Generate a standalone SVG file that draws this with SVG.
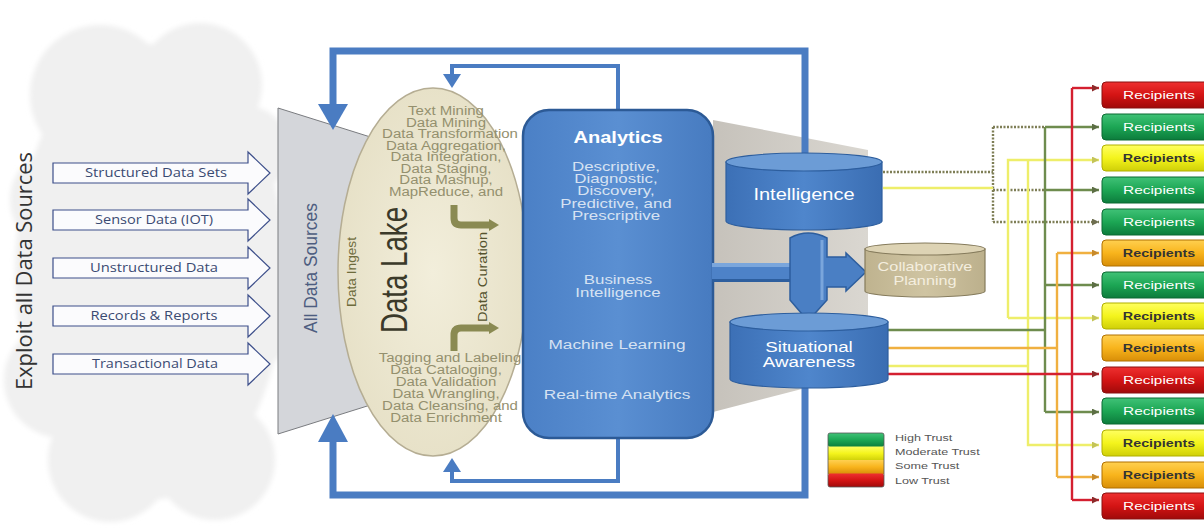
<svg xmlns="http://www.w3.org/2000/svg" width="1204" height="529" viewBox="0 0 1204 529">
  <defs>
    <style>
      .src { fill: #fbfbfd; stroke: #3d4f8a; stroke-width: 1.2; }
      .srct { font-family: "Open Sans", "Liberation Sans", sans-serif; font-size: 12px; fill: #3a4a72; text-anchor: middle; }
      .lake { font-family: "Liberation Sans", Arial, sans-serif; font-size: 12px; fill: #94906e; text-anchor: middle; }
      .an { font-family: "Liberation Sans", Arial, sans-serif; font-size: 12.5px; fill: #d6e2f2; text-anchor: middle; }
      .wt { font-family: "Liberation Sans", Arial, sans-serif; fill: #ffffff; text-anchor: middle; }
      .rc { font-family: "Liberation Sans", Arial, sans-serif; font-size: 11px; text-anchor: middle; }
      .lg { font-family: "Liberation Sans", Arial, sans-serif; font-size: 9px; fill: #555; }
      .loop { fill: none; stroke: #4a7cc2; stroke-linejoin: miter; }
      .ln { fill: none; stroke-width: 2.4; }
      .blue { fill: #4a7fc4; stroke: #2d5e9e; stroke-width: 1.5; }
    </style>
    <filter id="soft" x="-5%" y="-5%" width="110%" height="110%">
      <feGaussianBlur stdDeviation="2.5"/>
    </filter>
    <linearGradient id="gAn" x1="0" y1="0" x2="1" y2="0">
      <stop offset="0" stop-color="#4b80c6"/>
      <stop offset="0.5" stop-color="#5a8fd2"/>
      <stop offset="1" stop-color="#477bc0"/>
    </linearGradient>
    <linearGradient id="gCyl" x1="0" y1="0" x2="1" y2="0">
      <stop offset="0" stop-color="#3c70b6"/>
      <stop offset="0.5" stop-color="#4f86cc"/>
      <stop offset="1" stop-color="#3a6db2"/>
    </linearGradient>
    <linearGradient id="gTan" x1="0" y1="0" x2="1" y2="0">
      <stop offset="0" stop-color="#bfb38f"/>
      <stop offset="0.5" stop-color="#cfc4a2"/>
      <stop offset="1" stop-color="#bcb08c"/>
    </linearGradient>
    <linearGradient id="gShade" x1="0" y1="0" x2="1" y2="0">
      <stop offset="0" stop-color="#c6c2bb"/>
      <stop offset="1" stop-color="#dad7d1"/>
    </linearGradient>
    <radialGradient id="gLake" cx="0.5" cy="0.5" r="0.55">
      <stop offset="0" stop-color="#f2eedb"/>
      <stop offset="1" stop-color="#e6e0c6"/>
    </radialGradient>
    <linearGradient id="gG" x1="0" y1="0" x2="0" y2="1">
      <stop offset="0" stop-color="#40c277"/>
      <stop offset="0.5" stop-color="#1ca654"/>
      <stop offset="1" stop-color="#0c7c3c"/>
    </linearGradient>
    <linearGradient id="gR" x1="0" y1="0" x2="0" y2="1">
      <stop offset="0" stop-color="#ee3030"/>
      <stop offset="0.5" stop-color="#d41414"/>
      <stop offset="1" stop-color="#a00a0a"/>
    </linearGradient>
    <linearGradient id="gY" x1="0" y1="0" x2="0" y2="1">
      <stop offset="0" stop-color="#ffff60"/>
      <stop offset="0.5" stop-color="#f4f41c"/>
      <stop offset="1" stop-color="#cfcf08"/>
    </linearGradient>
    <linearGradient id="gO" x1="0" y1="0" x2="0" y2="1">
      <stop offset="0" stop-color="#ffd050"/>
      <stop offset="0.5" stop-color="#f8b41c"/>
      <stop offset="1" stop-color="#d88e08"/>
    </linearGradient>
    <marker id="aR" viewBox="0 0 10 10" refX="10" refY="5" markerWidth="7" markerHeight="7" markerUnits="userSpaceOnUse" orient="auto"><path d="M0,0 L10,5 L0,10 Z" fill="#8c2a2a"/></marker>
    <marker id="aG" viewBox="0 0 10 10" refX="10" refY="5" markerWidth="7" markerHeight="7" markerUnits="userSpaceOnUse" orient="auto"><path d="M0,0 L10,5 L0,10 Z" fill="#5c6e44"/></marker>
    <marker id="aY" viewBox="0 0 10 10" refX="10" refY="5" markerWidth="7" markerHeight="7" markerUnits="userSpaceOnUse" orient="auto"><path d="M0,0 L10,5 L0,10 Z" fill="#c4c458"/></marker>
    <marker id="aO" viewBox="0 0 10 10" refX="10" refY="5" markerWidth="7" markerHeight="7" markerUnits="userSpaceOnUse" orient="auto"><path d="M0,0 L10,5 L0,10 Z" fill="#c88a2a"/></marker>
    <marker id="aD" viewBox="0 0 10 10" refX="10" refY="5" markerWidth="7" markerHeight="7" markerUnits="userSpaceOnUse" orient="auto"><path d="M0,0 L10,5 L0,10 Z" fill="#6e6e50"/></marker>
  </defs>

  <rect width="1204" height="529" fill="#ffffff"/>

  <!-- source cloud -->
  <g id="cloud">
    <g fill="#f0f0f0" filter="url(#soft)">
      <ellipse cx="150" cy="272" rx="135" ry="228"/>
      <circle cx="100" cy="95" r="70"/>
      <circle cx="200" cy="85" r="62"/>
      <circle cx="246" cy="150" r="44"/>
      <circle cx="62" cy="200" r="52"/>
      <circle cx="62" cy="380" r="58"/>
      <circle cx="110" cy="460" r="62"/>
      <circle cx="215" cy="460" r="60"/>
      <circle cx="250" cy="330" r="40"/>
    </g>
    <text transform="translate(32,271) rotate(-90)" font-family="'Open Sans', 'Liberation Sans', sans-serif" font-size="22" fill="#333333" text-anchor="middle" textLength="238" lengthAdjust="spacingAndGlyphs">Exploit all Data Sources</text>
  </g>

  <!-- source arrows -->
  <g id="src-structured">
    <path class="src" d="M53,163 H248 V152 L270,173 L248,194 V183 H53 Z"/>
    <text class="srct" x="156" y="177" textLength="142" lengthAdjust="spacingAndGlyphs">Structured Data Sets</text>
  </g>
  <g id="src-sensor">
    <path class="src" d="M53,210 H248 V199 L270,220 L248,241 V230 H53 Z"/>
    <text class="srct" x="154" y="224" textLength="118" lengthAdjust="spacingAndGlyphs">Sensor Data (IOT)</text>
  </g>
  <g id="src-unstructured">
    <path class="src" d="M53,258 H248 V247 L270,268 L248,289 V278 H53 Z"/>
    <text class="srct" x="154" y="272" textLength="128" lengthAdjust="spacingAndGlyphs">Unstructured Data</text>
  </g>
  <g id="src-records">
    <path class="src" d="M53,306 H248 V295 L270,316 L248,337 V326 H53 Z"/>
    <text class="srct" x="154" y="320" textLength="127" lengthAdjust="spacingAndGlyphs">Records &amp; Reports</text>
  </g>
  <g id="src-transactional">
    <path class="src" d="M53,354 H248 V343 L270,364 L248,385 V374 H53 Z"/>
    <text class="srct" x="155" y="368" textLength="126" lengthAdjust="spacingAndGlyphs">Transactional Data</text>
  </g>

  <!-- all data sources funnel -->
  <g id="all-sources">
    <polygon points="278,108 380,140 380,402 278,434" fill="#d4d6da" stroke="#7a7c80" stroke-width="1"/>
    <text transform="translate(317,268) rotate(-90)" font-family="'Liberation Sans', Arial, sans-serif" font-size="19" fill="#4d5d80" text-anchor="middle" textLength="130" lengthAdjust="spacingAndGlyphs">All Data Sources</text>
  </g>

  <!-- shaded fan behind the output stores -->
  <polygon id="fan" points="713,120 868,150 868,372 713,412" fill="url(#gShade)"/>

  <!-- feedback loops -->
  <g id="connectors">
    <path class="loop" stroke-width="7" d="M333,108 V51 H805 V158"/>
    <polygon points="318,104 348,104 333,130" fill="#4a7cc2"/>
    <path class="loop" stroke-width="7" d="M333,438 V495 H805 V384"/>
    <polygon points="318,442 348,442 333,414" fill="#4a7cc2"/>
    <path class="loop" stroke-width="4" d="M618,112 V66 H452 V76"/>
    <polygon points="443,74 461,74 452,88" fill="#4a7cc2"/>
    <path class="loop" stroke-width="4" d="M618,436 V481 H452 V470"/>
    <polygon points="443,472 461,472 452,458" fill="#4a7cc2"/>

    <!-- distribution lines to recipients -->
    <g stroke="#7e7e56" stroke-dasharray="2 1.5">
      <path class="ln" d="M883,172 H993"/>
      <path class="ln" d="M993,127 V222"/>
      <path class="ln" d="M993,127 H1045"/>
      <path class="ln" d="M993,190 H1045"/>
      <path class="ln" d="M993,222 H1099" marker-end="url(#aD)"/>
    </g>
    <g stroke="#eeee6a">
      <path class="ln" d="M883,188 H993"/>
      <path class="ln" d="M888,366 H1028"/>
      <path class="ln" d="M1008,318 V160 H1099" marker-end="url(#aY)"/>
      <path class="ln" d="M1008,318 H1099" marker-end="url(#aY)"/>
      <path class="ln" d="M1028,160 V445 H1099" marker-end="url(#aY)"/>
    </g>
    <g stroke="#6e8c4e">
      <path class="ln" d="M888,330 H1045"/>
      <path class="ln" d="M1045,127 V412"/>
      <path class="ln" d="M1045,127 H1099" marker-end="url(#aG)"/>
      <path class="ln" d="M1045,190 H1099" marker-end="url(#aG)"/>
      <path class="ln" d="M1045,285 H1099" marker-end="url(#aG)"/>
      <path class="ln" d="M1045,412 H1099" marker-end="url(#aG)"/>
    </g>
    <g stroke="#f0b040">
      <path class="ln" d="M888,348 H1057"/>
      <path class="ln" d="M1057,253 V477"/>
      <path class="ln" d="M1057,253 H1099" marker-end="url(#aO)"/>
      <path class="ln" d="M1057,477 H1099" marker-end="url(#aO)"/>
    </g>
    <g stroke="#d42030">
      <path class="ln" d="M888,374 H1099" marker-end="url(#aR)"/>
      <path class="ln" d="M1072,88 V500"/>
      <path class="ln" d="M1072,88 H1099" marker-end="url(#aR)"/>
      <path class="ln" d="M1072,500 H1099" marker-end="url(#aR)"/>
    </g>
  </g>

  <!-- data lake -->
  <g id="data-lake">
    <ellipse cx="433" cy="272" rx="95" ry="184" fill="url(#gLake)" stroke="#b5ad93" stroke-width="1.5"/>
    <g class="lake">
      <text transform="translate(446,115) scale(1.25,1)">Text Mining</text>
      <text transform="translate(446,126.5) scale(1.25,1)">Data Mining</text>
      <text transform="translate(450,138) scale(1.25,1)">Data Transformation</text>
      <text transform="translate(446,149.5) scale(1.25,1)">Data Aggregation,</text>
      <text transform="translate(446,161) scale(1.25,1)">Data Integration,</text>
      <text transform="translate(446,172.5) scale(1.25,1)">Data Staging,</text>
      <text transform="translate(446,184) scale(1.25,1)">Data Mashup,</text>
      <text transform="translate(446,195.5) scale(1.25,1)">MapReduce, and</text>
      <text transform="translate(450,362) scale(1.25,1)">Tagging and Labeling</text>
      <text transform="translate(446,374) scale(1.25,1)">Data Cataloging,</text>
      <text transform="translate(446,386) scale(1.25,1)">Data Validation</text>
      <text transform="translate(446,398) scale(1.25,1)">Data Wrangling,</text>
      <text transform="translate(450,410) scale(1.25,1)">Data Cleansing, and</text>
      <text transform="translate(446,422) scale(1.25,1)">Data Enrichment</text>
    </g>
    <text transform="translate(407,270) rotate(-90)" font-family="'Liberation Sans', Arial, sans-serif" font-size="37" fill="#3b3a2a" text-anchor="middle" textLength="126" lengthAdjust="spacingAndGlyphs">Data Lake</text>
    <text transform="translate(356,272) rotate(-90)" font-family="'Liberation Sans', Arial, sans-serif" font-size="12" fill="#6e6c3c" text-anchor="middle" textLength="70" lengthAdjust="spacingAndGlyphs">Data Ingest</text>
    <text transform="translate(487,277) rotate(-90)" font-family="'Liberation Sans', Arial, sans-serif" font-size="13" fill="#55532e" text-anchor="middle" textLength="90" lengthAdjust="spacingAndGlyphs">Data Curation</text>
    <!-- curation arrows -->
    <path d="M454,205 V218 Q454,225 461,225 H490" fill="none" stroke="#8a8a52" stroke-width="7"/>
    <polygon points="489,219 499,225 489,231" fill="#8a8a52"/>
    <path d="M454,351 V335 Q454,328 461,328 H490" fill="none" stroke="#8a8a52" stroke-width="7"/>
    <polygon points="489,322 499,328 489,334" fill="#8a8a52"/>
  </g>

  <!-- analytics -->
  <g id="analytics">
    <rect x="523" y="110" width="190" height="328" rx="26" fill="url(#gAn)" stroke="#2c5a96" stroke-width="2.5"/>
    <text class="wt" font-weight="bold" font-size="17" transform="translate(618,143) scale(1.18,1)">Analytics</text>
    <g class="an">
      <text transform="translate(616,171) scale(1.35,1)">Descriptive,</text>
      <text transform="translate(616,183) scale(1.35,1)">Diagnostic,</text>
      <text transform="translate(616,195) scale(1.35,1)">Discovery,</text>
      <text transform="translate(616,207.5) scale(1.35,1)">Predictive, and</text>
      <text transform="translate(616,220) scale(1.35,1)">Prescriptive</text>
      <text transform="translate(618,284) scale(1.35,1)">Business</text>
      <text transform="translate(618,297) scale(1.35,1)">Intelligence</text>
      <text transform="translate(617,349) scale(1.38,1)">Machine Learning</text>
      <text transform="translate(617,399) scale(1.38,1)">Real-time Analytics</text>
    </g>
  </g>

  <!-- flow from analytics into the stores -->
  <g id="store-feed">
    <rect x="712" y="263" width="80" height="19" fill="#4d82c8"/>
    <rect x="712" y="263" width="80" height="4" fill="#7aa6dc"/>
    <rect x="712" y="279" width="80" height="3" fill="#2d5e9e"/>
    <path class="blue" fill="#4f85ca" d="M790,238 Q808,228 827,238 V257 H846 V253 L866,272 L846,291 V287 H827 V300 L808,321 L790,300 Z"/>
    <path d="M822,240 V300" stroke="#7aa6dc" stroke-width="3" fill="none"/>
  </g>

  <!-- intelligence store -->
  <g id="intelligence">
    <path d="M726,162 V221 A78,9 0 0 0 882,221 V162 Z" fill="url(#gCyl)" stroke="#2d5e9e" stroke-width="1.2"/>
    <ellipse cx="804" cy="162" rx="78" ry="9" fill="#6c9cd6" stroke="#2d5e9e" stroke-width="1.2"/>
    <text class="wt" font-size="16" transform="translate(804,200) scale(1.25,1)">Intelligence</text>
  </g>

  <!-- collaborative planning store -->
  <g id="collab">
    <path d="M865,249 V291 A60,6 0 0 0 985,291 V249 Z" fill="url(#gTan)" stroke="#857b5c" stroke-width="1.2"/>
    <ellipse cx="925" cy="249" rx="60" ry="6" fill="#ddd3b4" stroke="#857b5c" stroke-width="1.2"/>
    <g class="wt" font-size="12.5">
      <text transform="translate(925,271) scale(1.3,1)" fill="#f4eedf">Collaborative</text>
      <text transform="translate(925,285) scale(1.3,1)" fill="#f4eedf">Planning</text>
    </g>
  </g>

  <!-- situational awareness store -->
  <g id="situational">
    <path d="M730,322 V379 A79,9 0 0 0 888,379 V322 Z" fill="url(#gCyl)" stroke="#2d5e9e" stroke-width="1.2"/>
    <ellipse cx="809" cy="322" rx="79" ry="9" fill="#6c9cd6" stroke="#2d5e9e" stroke-width="1.2"/>
    <text class="wt" font-size="15" transform="translate(809,352) scale(1.25,1)">Situational</text>
    <text class="wt" font-size="15" transform="translate(809,367) scale(1.25,1)">Awareness</text>
  </g>

  <!-- recipients -->
  <g id="recipients">
    <g id="r1"><rect x="1102" y="82" width="110" height="26" rx="4" fill="url(#gR)" stroke="#8a1010"/><text class="rc" fill="#ffffff" transform="translate(1159,99) scale(1.4,1)">Recipients</text></g>
    <g id="r2"><rect x="1102" y="114" width="110" height="26" rx="4" fill="url(#gG)" stroke="#0b6a32"/><text class="rc" fill="#ffffff" transform="translate(1159,131) scale(1.4,1)">Recipients</text></g>
    <g id="r3"><rect x="1102" y="145" width="110" height="26" rx="4" fill="url(#gY)" stroke="#b0b000"/><text class="rc" fill="#333333" font-weight="bold" transform="translate(1159,162) scale(1.3,1)">Recipients</text></g>
    <g id="r4"><rect x="1102" y="177" width="110" height="26" rx="4" fill="url(#gG)" stroke="#0b6a32"/><text class="rc" fill="#ffffff" transform="translate(1159,194) scale(1.4,1)">Recipients</text></g>
    <g id="r5"><rect x="1102" y="209" width="110" height="26" rx="4" fill="url(#gG)" stroke="#0b6a32"/><text class="rc" fill="#ffffff" transform="translate(1159,226) scale(1.4,1)">Recipients</text></g>
    <g id="r6"><rect x="1102" y="240" width="110" height="26" rx="4" fill="url(#gO)" stroke="#b07000"/><text class="rc" fill="#333333" font-weight="bold" transform="translate(1159,257) scale(1.3,1)">Recipients</text></g>
    <g id="r7"><rect x="1102" y="272" width="110" height="26" rx="4" fill="url(#gG)" stroke="#0b6a32"/><text class="rc" fill="#ffffff" transform="translate(1159,289) scale(1.4,1)">Recipients</text></g>
    <g id="r8"><rect x="1102" y="303" width="110" height="26" rx="4" fill="url(#gY)" stroke="#b0b000"/><text class="rc" fill="#333333" font-weight="bold" transform="translate(1159,320) scale(1.3,1)">Recipients</text></g>
    <g id="r9"><rect x="1102" y="335" width="110" height="26" rx="4" fill="url(#gO)" stroke="#b07000"/><text class="rc" fill="#333333" font-weight="bold" transform="translate(1159,352) scale(1.3,1)">Recipients</text></g>
    <g id="r10"><rect x="1102" y="367" width="110" height="26" rx="4" fill="url(#gR)" stroke="#8a1010"/><text class="rc" fill="#ffffff" transform="translate(1159,384) scale(1.4,1)">Recipients</text></g>
    <g id="r11"><rect x="1102" y="398" width="110" height="26" rx="4" fill="url(#gG)" stroke="#0b6a32"/><text class="rc" fill="#ffffff" transform="translate(1159,415) scale(1.4,1)">Recipients</text></g>
    <g id="r12"><rect x="1102" y="430" width="110" height="26" rx="4" fill="url(#gY)" stroke="#b0b000"/><text class="rc" fill="#333333" font-weight="bold" transform="translate(1159,447) scale(1.3,1)">Recipients</text></g>
    <g id="r13"><rect x="1102" y="462" width="110" height="26" rx="4" fill="url(#gO)" stroke="#b07000"/><text class="rc" fill="#333333" font-weight="bold" transform="translate(1159,479) scale(1.3,1)">Recipients</text></g>
    <g id="r14"><rect x="1102" y="493" width="110" height="26" rx="4" fill="url(#gR)" stroke="#8a1010"/><text class="rc" fill="#ffffff" transform="translate(1159,510) scale(1.4,1)">Recipients</text></g>
  </g>

  <!-- trust legend -->
  <g id="legend">
    <rect x="828" y="433" width="56" height="14" rx="2" fill="url(#gG)"/>
    <rect x="828" y="446.5" width="56" height="14" fill="url(#gY)"/>
    <rect x="828" y="460" width="56" height="14" fill="url(#gO)"/>
    <rect x="828" y="473.5" width="56" height="13.5" rx="2" fill="url(#gR)"/>
    <rect x="828" y="433" width="56" height="54" rx="2" fill="none" stroke="#555" stroke-width="0.8"/>
    <text class="lg" transform="translate(895,441) scale(1.4,1)">High Trust</text>
    <text class="lg" transform="translate(895,455) scale(1.4,1)">Moderate Trust</text>
    <text class="lg" transform="translate(895,469) scale(1.4,1)">Some Trust</text>
    <text class="lg" transform="translate(895,484) scale(1.4,1)">Low Trust</text>
  </g>
</svg>
